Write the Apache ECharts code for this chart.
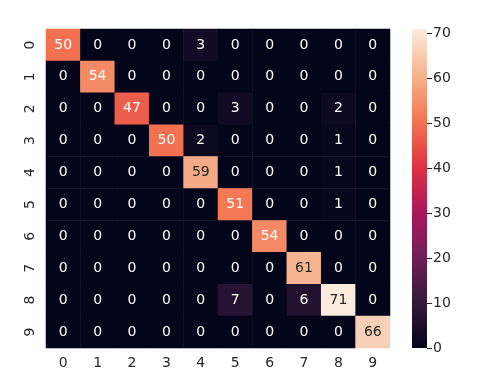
<!DOCTYPE html>
<html>
<head>
<meta charset="utf-8">
<script src="https://cdn.jsdelivr.net/npm/echarts@6/dist/echarts.min.js"></script>
<style>
  html, body { margin: 0; padding: 0; background: #fff; }
  #chart { width: 480px; height: 379px; }
</style>
</head>
<body>
<div id="chart"></div>
<script>
const labels = ['0', '1', '2', '3', '4', '5', '6', '7', '8', '9']

// confusion matrix, row = true label (top to bottom), col = predicted
const row0 = [50, 0, 0, 0, 3, 0, 0, 0, 0, 0]
const row1 = [0, 54, 0, 0, 0, 0, 0, 0, 0, 0]
const row2 = [0, 0, 47, 0, 0, 3, 0, 0, 2, 0]
const row3 = [0, 0, 0, 50, 2, 0, 0, 0, 1, 0]
const row4 = [0, 0, 0, 0, 59, 0, 0, 0, 1, 0]
const row5 = [0, 0, 0, 0, 0, 51, 0, 0, 1, 0]
const row6 = [0, 0, 0, 0, 0, 0, 54, 0, 0, 0]
const row7 = [0, 0, 0, 0, 0, 0, 0, 61, 0, 0]
const row8 = [0, 0, 0, 0, 0, 7, 0, 6, 71, 0]
const row9 = [0, 0, 0, 0, 0, 0, 0, 0, 0, 66]
const rows = [row0, row1, row2, row3, row4, row5, row6, row7, row8, row9]

const colorbarTicks = [0, 10, 20, 30, 40, 50, 60, 70]

// seaborn "rocket", evenly spaced stops
const rocket = ['#03051a', '#35193e', '#701f57', '#ad1759', '#e13342', '#f37651', '#f6b48f', '#faebdd']

const vmax = Math.max(...rows.map((r) => Math.max(...r)))
const textDark = '#262626'

const cells = []
rows.forEach((r, y) => {
  r.forEach((v, x) => {
    cells.push({
      value: [x, y, v],
      label: { color: v / vmax > 0.78 ? textDark : '#ffffff' },
    })
  })
})

const font = 'DejaVu Sans'

const chart = echarts.init(document.getElementById('chart'))
chart.setOption({
  animation: false,
  textStyle: { fontFamily: font },
  grid: [
    { left: 46, top: 29, width: 344, height: 319 },
    { left: 412, top: 29, width: 15, height: 319 },
  ],
  xAxis: [
    {
      type: 'category',
      gridIndex: 0,
      data: labels,
      axisLine: { show: false },
      axisTick: { alignWithLabel: true, length: 5, lineStyle: { color: textDark } },
      axisLabel: { color: textDark, fontSize: 14, fontFamily: font, margin: 8 },
      splitLine: { show: false },
    },
    {
      type: 'category',
      gridIndex: 1,
      data: [''],
      show: false,
    },
  ],
  yAxis: [
    {
      type: 'category',
      gridIndex: 0,
      data: labels,
      inverse: true,
      axisLine: { show: false },
      axisTick: { alignWithLabel: true, length: 5, lineStyle: { color: textDark } },
      axisLabel: { color: textDark, fontSize: 14, fontFamily: font, rotate: 90, margin: 9 },
      splitLine: { show: false },
    },
    {
      type: 'value',
      gridIndex: 1,
      position: 'right',
      min: 0,
      max: vmax,
      axisLine: { show: false },
      axisTick: { show: true, length: 5, customValues: colorbarTicks, lineStyle: { color: textDark } },
      axisLabel: { color: textDark, fontSize: 14, fontFamily: font, margin: 6, customValues: colorbarTicks },
      splitLine: { show: false },
    },
  ],
  visualMap: {
    show: false,
    seriesIndex: 0,
    min: 0,
    max: vmax,
    dimension: 2,
    inRange: { color: rocket },
  },
  series: [
    {
      type: 'heatmap',
      xAxisIndex: 0,
      yAxisIndex: 0,
      data: cells,
      label: { show: true, fontSize: 14, fontFamily: font },
      itemStyle: { borderWidth: 0 },
      emphasis: { disabled: true },
    },
    {
      type: 'bar',
      xAxisIndex: 1,
      yAxisIndex: 1,
      data: [vmax],
      barWidth: '100%',
      silent: true,
      itemStyle: {
        color: new echarts.graphic.LinearGradient(0, 0, 0, 1,
          rocket.slice().reverse().map((c, i) => ({ offset: i / (rocket.length - 1), color: c }))),
      },
    },
  ],
})
</script>
</body>
</html>
